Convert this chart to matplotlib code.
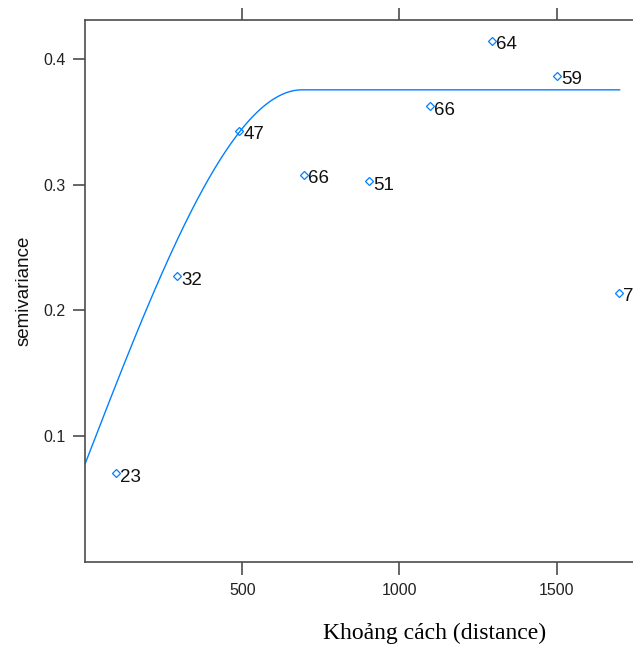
import numpy as np
import matplotlib
matplotlib.use("Agg")
import matplotlib.pyplot as plt

# sample variogram (distance, semivariance, number of pairs)
dist = [98, 293, 490, 697, 904, 1096, 1293, 1500, 1697]
gamma = [0.0705, 0.2273, 0.343, 0.308, 0.303, 0.3626, 0.4146, 0.3867, 0.214]
npairs = [23, 32, 47, 66, 51, 66, 64, 59, 7]

# fitted spherical model
nugget = 0.0777
sill = 0.3756
vrange = 690
model_xmax = 1700

xticks = [500, 1000, 1500]
yticks = [0.1, 0.2, 0.3, 0.4]

blue = "#0080ff"
grey = "#4d4d4d"

fig = plt.figure(figsize=(6.33, 6.46), dpi=100)
ax = fig.add_axes([85 / 633, (646 - 561.7) / 646, (641 - 85) / 633, (561.7 - 20) / 646])

h = np.linspace(0, model_xmax, 400)
hr = np.minimum(h / vrange, 1.0)
gm = nugget + (sill - nugget) * (1.5 * hr - 0.5 * hr ** 3)
ax.plot(h, gm, color=blue, lw=1.0)

ax.plot(dist, gamma, linestyle="none", marker="D", markersize=3.8,
        markerfacecolor="none", markeredgecolor=blue, markeredgewidth=0.9)
for x, y, n in zip(dist, gamma, npairs):
    ax.annotate(str(n), (x, y), xytext=(3, -1.5), textcoords="offset points",
                ha="left", va="center_baseline", fontsize=13.5, color="#111111",
                family="Liberation Sans")

ax.set_xlim(0, 1.04 * 1700)
ax.set_ylim(0, 1.04 * max(gamma))
ax.set_xticks(xticks)
ax.set_yticks(yticks)
ax.set_yticklabels([str(t) for t in yticks])

for s in ax.spines.values():
    s.set_color(grey)
    s.set_linewidth(1.2)
ax.tick_params(axis="both", direction="out", length=9, width=1.2, color=grey,
               labelsize=11.5, labelcolor="#222222", top=True, right=True,
               labeltop=False, labelright=False)
ax.tick_params(axis="x", pad=6)
ax.tick_params(axis="y", pad=5)
for lab in ax.get_xticklabels() + ax.get_yticklabels():
    lab.set_family("Liberation Sans")

ax.set_ylabel("semivariance", fontsize=13.5, family="Liberation Sans",
              color="#111111", labelpad=8)
fig.text(435 / 633, 1 - 633 / 646, "Khoảng cách (distance)", ha="center",
         va="center", fontsize=17, family="Liberation Serif", color="black")

fig.savefig("out.png", dpi=100)
